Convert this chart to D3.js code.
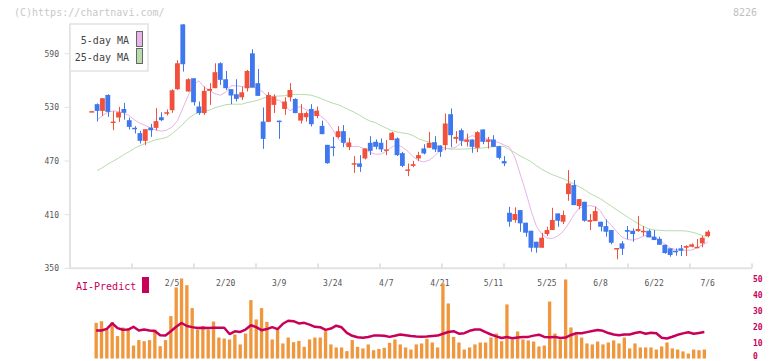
<!DOCTYPE html>
<html>
<head>
<meta charset="utf-8">
<script src="https://cdn.jsdelivr.net/npm/d3@7"></script>
<style>
  body { margin: 0; background: #fff; }
  text { font-family: 'DejaVu Sans Mono', monospace; }
</style>
</head>
<body>
<script>
// ---- data ----
const opens = [525,533.6,526.1,543.9,513.2,518.7,528.2,515.7,507.2,501.2,492.6,507.4,507.1,519,523.6,526.9,550.3,622.9,547.8,562.6,
  531,523.6,548.5,551.5,579.4,561.5,550.4,544.7,541.3,551.4,590.5,557.1,514.2,513.8,532.8,515.2,528.3,541.3,539.5,515.2,
  519,528.3,520.4,509.3,488.1,486.2,496.8,503.4,485.6,466.5,467.3,472.9,490.4,491.5,490.4,482.2,493.4,495.3,478.8,459.8,
  464.6,472.9,484.1,484.8,491.1,487.4,487.8,522.4,494.8,504.5,491.5,494.1,484.8,505.3,491.5,494.1,486.6,469.9,412.1,404,
  415.1,401,392,379.7,373,388.3,392.8,411.4,402.1,433,443.1,419.6,424.4,402.1,402.8,402.1,397.2,392.8,371.6,377.9,
  392.8,392,391.6,390.9,392,385.3,383,376.3,372.3,369.7,372.3,373,374.1,373,377.9,386.1];
const highs = [526,534.4,540.3,544.7,525.8,530.6,535,518.7,509,503.7,505.6,511.6,529.1,524.6,527.7,550.3,582.7,622.9,562.6,562.6,
  536.6,553.4,557.1,579.4,580.5,570.8,550.4,561.5,553.2,571.9,595,573,529.9,547,544.7,515.2,541.3,557.1,540.2,533.6,
  525.4,533.6,531,515.2,488.1,497,509,510.2,495.9,475.5,476.6,484.1,497.8,494.1,495.3,493.4,502.6,496.4,480.3,467.3,
  470.1,480.3,488.8,502.6,497.8,487.4,523.2,528.8,503.4,506.4,500.8,494.1,503.4,505.3,497,498.9,486.6,475.5,418.8,418.2,
  415.1,401,392,379.7,389.7,396.5,417.7,411.4,414.4,459.8,448.7,427.4,424.4,410.7,419,402.1,404.7,392.8,372.7,380.5,
  397.3,394.7,408.4,397.3,393.6,392.8,385.3,376.3,372.3,372.3,376,375.7,377.9,382.7,386.1,392.8];
const lows = [525,514.2,520.5,519.4,504.5,513.8,516.4,505.3,500.8,489.7,487.8,497,504.5,514.6,521,523.9,549.7,570.1,547.8,532.1,
  521.6,521.6,532.8,551.5,555.1,549.6,533.6,536.6,538.4,547.8,552.2,542.9,483.6,513.8,523.6,494.8,521.6,536.6,523.6,512,
  514.2,508.7,517.9,500.1,466.9,475.4,495.4,485.6,482.1,456.8,457.9,471.8,476.6,483.2,480,476.6,493.4,475.5,463.1,453.1,
  463.1,470.2,477.4,484.8,480,474.6,482.1,485.6,489.7,486.7,486.3,479.2,480,488.8,484,485.9,471.8,464.3,396.5,401,
  390.9,385.3,368.5,367.4,373,386.1,392.8,396.5,399.5,425.5,420.7,415.9,402.1,392.8,402.8,391.3,385.3,376.8,360.1,364.9,
  382.4,379.7,390.9,386.1,384.6,381.6,376.3,366.3,363,364.1,363.7,363.7,373.5,373,373.5,384.6];
const closes = [525.8,526.1,540.3,525,514.2,524.6,524,508.2,506.4,492.6,505.6,504.4,514.6,515.7,524.6,549.2,579.4,578.3,561.5,535.8,
  523.6,548.5,550.7,569.4,560.8,551.5,543.3,539.5,546.9,570.8,552.2,542.9,494.8,544,542.2,513.7,536.6,549.5,523.6,523.6,
  523.6,511.2,526.4,500.1,467.6,485.1,503.4,490.4,490.8,467.6,463.5,484.1,481.4,485.9,483,483,501.6,476.6,464.6,460.6,
  466.5,476.6,478.5,490.4,483,480.2,512,498.9,497,492.6,494.1,485.9,502.3,491.5,494.1,485.9,473.6,467.3,402.1,410.7,
  400.3,389.8,373,373,384.2,392.8,404,403.2,409.6,445,420.7,427.4,403.2,404,414,396.5,390.9,378.6,372.7,371.9,
  390.9,388.3,393.9,392,384.6,381.6,376.3,367,364.9,367.9,369.7,374.9,376.8,374.1,384.2,391];
const ma5 = [null,515.9,520.7,524.6,526.1,525.4,523.7,520.7,515.9,512.3,509.9,506.8,504.5,503.4,504.5,508.1,515.1,529.1,543.1,555.4,
  559.8,552.5,548.9,545.3,543.6,547,554.2,554.2,553.4,552.6,552.6,551.5,547,541.4,538.6,538,532.5,526.3,529.7,530.8,
  527.4,525.2,523.5,519.1,514,505.1,494.5,490,487.2,486.1,486.1,483.3,479.4,477.7,477.7,481.1,485.5,488.3,485.5,481.1,
  474.9,470.4,469.1,471,475.5,481.1,484.1,484.1,485.5,490.6,495.3,498.4,496.7,496.4,494.5,492.3,490.6,487.8,485.5,474.3,
  455.4,436.4,415.1,397.3,388.3,383.9,383.3,386.1,391.1,399.5,409.6,417.4,419.6,420.2,419.1,414,404,398.4,391.1,385,
  382.2,381.6,383.3,386.1,386.6,385,381.6,377.2,372.7,371,370.4,370.1,370.4,372.7,376,379.4];
const ma25 = [null,459.2,462.6,466.5,469.9,473.2,477.2,480.5,484.4,487.2,489.7,491.7,493.9,495,496.4,500.6,505.6,511.2,517.4,521.8,
  524.6,525.8,526.9,529.7,531.3,533,533.6,533.6,533.6,535.3,536.6,538,540.3,541.9,542.5,542.7,543.1,544.2,544.5,544.4,
  544.3,543.6,541.7,539.5,536.9,534.7,533,530.2,527.4,524.6,521.3,517.6,514.6,512.9,509.6,506.8,504,502.5,501.4,500.6,
  498.4,495,492.8,491.1,488.3,485.9,484.4,483.3,483.3,483.3,483.5,483.8,484.1,484.6,485.5,486.1,486.6,486.3,482.7,479.4,
  475.5,472.7,469.3,464.9,460.9,457.6,454.8,452.5,450.3,447.5,444.4,441.3,438,433.7,430.8,427.8,423.5,419.6,415.5,411.5,
  407.5,403.6,400.1,396.7,394.2,392.8,392.5,392.1,392,392,392,391.7,390.5,388.9,386.6,385.3];
const volume = [22.3,23.3,18.1,22.7,14,19.4,19,8.1,11.5,10.8,11.5,18.1,7.7,11.5,26.5,44.4,50,45.8,31.5,18.1,
  20.2,18.1,23.1,13.1,12.5,11.9,15,8.8,15.6,36.5,24.4,31.5,22.9,11.9,18.1,9.4,13.1,10.2,11,7.3,
  11.9,13.1,13.1,17.1,8.8,6.9,6.9,4.6,11.5,7.3,6.3,8.8,5.2,6,6.7,9.8,11.9,8.8,6.9,5.6,
  8.8,9.4,12.3,10,6.9,46.9,34.4,13.5,10,5.6,6.9,8.8,10,10,13.1,15.6,10.8,33.8,11.9,16.9,
  11.9,11.3,10.6,7.5,8.1,35.6,15.6,11.9,49.4,19.4,15,13.1,9.4,8.8,10.6,8.8,10,11.3,9.4,13.1,
  6.3,9.4,6.9,6.9,6.9,5.6,7.5,10,6.3,5.6,4.4,3.1,5.6,5.2,5.6];
const aiPredict = [17.5,17.5,18.5,22,19,18,18.1,19.8,17.5,18.1,17.5,17.2,14.6,14.4,17,19.8,22.2,20.3,19.6,19,
  19.2,19,19.2,19.2,19.2,15.3,17,16.6,18.1,20.8,19.6,17.7,18.4,19.6,18.4,21.7,23.6,23.3,21.9,22.3,
  21.2,19.8,19.6,17.9,18.7,20.5,19.5,16,14.2,13.3,13,13.4,14.3,14.4,14.2,13.5,14.2,15,14.5,14,
  13.7,13.6,13.8,14.1,14.3,15.5,16.6,17.1,15.5,15.8,17.3,18.1,18.1,16.5,15,13.8,12.8,13.4,12.7,13.1,
  13.5,13.5,14.3,14.9,13.5,13.3,13.5,12.8,13.1,14.7,15.8,15.8,16.5,17.2,17.8,17.3,15.9,15,14.6,15,
  15,15.9,16.5,15.5,16.1,15.8,13,12.5,13.6,14.8,15.7,16.4,15.5,16,16.5];
const dateLabels = ['2/5','2/20','3/9','3/24','4/7','4/21','5/11','5/25','6/8','6/22','7/6'];
const dateIdx = [15,25,35,45,55,65,75,85,95,105,115];
const priceTicks = [350,410,470,530,590];
const volTicks = [0,10,20,30,40,50];

// ---- colours ----
const UP = '#f0503c', DOWN = '#3f78ee', AXIS = '#e2e2e2', TXT = '#555';
const MA5C = '#e8b4ea', MA25C = '#b6dcab', VOLC = '#f0963c', AIC = '#c8005a';

const W = 772, H = 361;
const svg = d3.select('body').append('svg').attr('width', W).attr('height', H);

// ---- scales ----
const x = d3.scaleBand().domain(d3.range(opens.length)).range([88.8, 710.6]).padding(0.1);
const cx = i => x(i) + x.bandwidth() / 2;
const y = d3.scaleLinear().domain([350, 623.3]).range([268.3, 24]);
const xv = d3.scaleBand().domain(d3.range(volume.length)).range([93.5, 707]).paddingInner(0.38).paddingOuter(0.19);
const cxv = i => xv(i) + xv.bandwidth() / 2;
const yv = d3.scaleLinear().domain([0, 50]).range([358.5, 278.5]);
const grid = d3.scaleLinear().domain([0, 11]).range([70, 752]);

// ---- header texts ----
svg.append('text').attr('x', 14).attr('y', 16).attr('font-size', 10).attr('fill', '#c8c8c8')
  .text('(C)https://chartnavi.com/');
svg.append('text').attr('x', 757).attr('y', 16).attr('font-size', 10).attr('fill', '#c0c0c0')
  .attr('text-anchor', 'end').text('8226');

// ---- axes ----
svg.append('line').attr('x1', 70).attr('x2', 70).attr('y1', 24).attr('y2', 268.3)
  .attr('stroke', AXIS).attr('stroke-width', 2);
svg.append('line').attr('x1', 69).attr('x2', 752).attr('y1', 268.3).attr('y2', 268.3)
  .attr('stroke', AXIS).attr('stroke-width', 2);
svg.selectAll('.gt').data(d3.range(1, 12)).join('line')
  .attr('x1', d => grid(d)).attr('x2', d => grid(d)).attr('y1', 263.5).attr('y2', 268)
  .attr('stroke', AXIS).attr('stroke-width', 2);
svg.selectAll('.yt').data(priceTicks).join('line')
  .attr('x1', 64.5).attr('x2', 70).attr('y1', d => y(d)).attr('y2', d => y(d))
  .attr('stroke', AXIS).attr('stroke-width', 1);
svg.selectAll('.yl').data(priceTicks).join('text')
  .attr('x', 59).attr('y', d => y(d) + 3).attr('text-anchor', 'end')
  .attr('font-size', 8).attr('fill', TXT).text(d => d);

// ---- moving averages ----
const maLine = d3.line().defined(d => d != null).x((d, i) => cx(i)).y(d => y(d));
svg.append('path').datum(ma25).attr('d', maLine).attr('fill', 'none').attr('stroke', MA25C).attr('stroke-width', 1);
svg.append('path').datum(ma5).attr('d', maLine).attr('fill', 'none').attr('stroke', MA5C).attr('stroke-width', 1);

// ---- candles ----
const candles = svg.append('g').selectAll('g').data(opens).join('g');
const col = i => closes[i] >= opens[i] ? UP : DOWN;
candles.append('line')
  .attr('x1', (d, i) => Math.round(cx(i)) + 0.5).attr('x2', (d, i) => Math.round(cx(i)) + 0.5)
  .attr('y1', (d, i) => y(highs[i])).attr('y2', (d, i) => y(lows[i]))
  .attr('stroke', (d, i) => col(i)).attr('stroke-width', 1);
candles.append('rect')
  .attr('x', (d, i) => x(i)).attr('width', x.bandwidth())
  .attr('y', (d, i) => y(Math.max(opens[i], closes[i])))
  .attr('height', (d, i) => Math.max(1.5, Math.abs(y(opens[i]) - y(closes[i]))))
  .attr('fill', (d, i) => col(i));

// ---- legend ----
const lg = svg.append('g');
lg.append('rect').attr('x', 70).attr('y', 24).attr('width', 78).attr('height', 47)
  .attr('fill', '#fff').attr('stroke', '#e2e2e2').attr('stroke-width', 1.5);
[['5-day MA', MA5C], ['25-day MA', MA25C]].forEach(([t, c], k) => {
  lg.append('text').attr('x', 129).attr('y', 44 + k * 17).attr('text-anchor', 'end')
    .attr('font-size', 10).attr('fill', '#444').text(t);
  lg.append('rect').attr('x', 136.5).attr('y', 31.5 + k * 17).attr('width', 6).attr('height', 15)
    .attr('fill', c).attr('stroke', '#666').attr('stroke-width', 1);
});

// ---- date labels ----
svg.selectAll('.dl').data(dateIdx).join('text')
  .attr('x', d => cx(d)).attr('y', 286).attr('text-anchor', 'middle')
  .attr('font-size', 8).attr('fill', TXT).text((d, k) => dateLabels[k]);

// ---- AI-Predict label ----
svg.append('text').attr('x', 76).attr('y', 290).attr('font-size', 10).attr('fill', AIC).text('AI-Predict');
svg.append('rect').attr('x', 142).attr('y', 277).attr('width', 7).attr('height', 16).attr('fill', AIC);

// ---- volume bars ----
svg.selectAll('.vb').data(volume).join('rect')
  .attr('x', (d, i) => xv(i)).attr('width', xv.bandwidth())
  .attr('y', d => yv(d)).attr('height', d => yv(0) - yv(d))
  .attr('fill', VOLC);

// ---- AI predict line ----
svg.append('path').datum(aiPredict)
  .attr('d', d3.line().x((d, i) => cxv(i)).y(d => yv(d)))
  .attr('fill', 'none').attr('stroke', AIC).attr('stroke-width', 2.5).attr('stroke-linejoin', 'round');

// ---- right axis labels ----
svg.selectAll('.vl').data(volTicks).join('text')
  .attr('x', 753).attr('y', d => Math.min(yv(d) + 3, 359)).attr('font-size', 8).attr('font-weight', 'bold')
  .attr('fill', AIC).text(d => d);
</script>
</body>
</html>
